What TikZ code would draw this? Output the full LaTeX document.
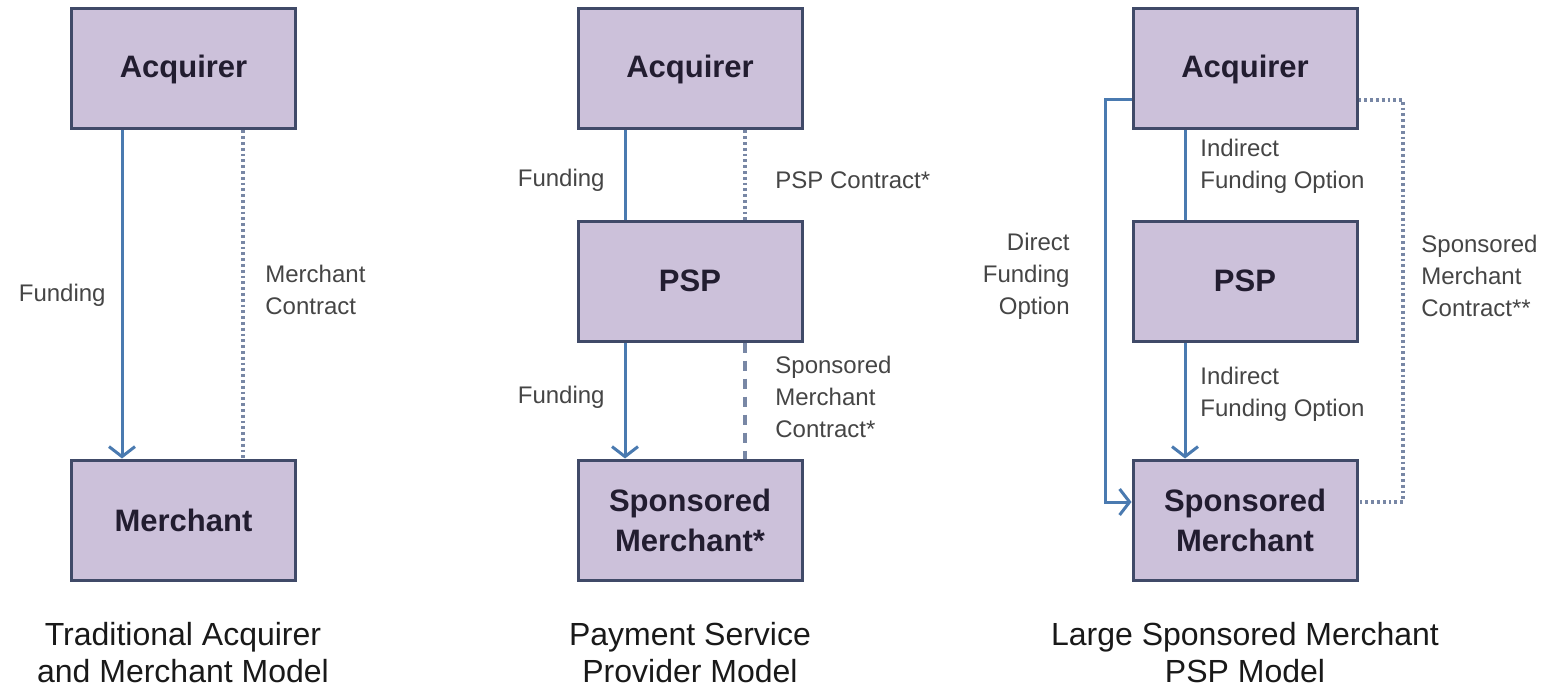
\documentclass[tikz,border=0pt]{standalone}
\usepackage{fontspec}
\setmainfont{Liberation Sans}
\usetikzlibrary{arrows.meta}
\definecolor{boxfill}{HTML}{CCC1DA}
\definecolor{boxline}{HTML}{404A68}
\definecolor{fundcol}{HTML}{4A7AB0}
\definecolor{dotcol}{HTML}{7887A5}
\definecolor{labcol}{HTML}{454545}
\definecolor{boxtext}{HTML}{221D30}
\tikzset{
  entity/.style={draw=boxline, fill=boxfill, line width=1.5pt, minimum width=112pt, minimum height=60pt, inner sep=0pt, align=center, text=boxtext, font=\fontsize{15.5}{20}\selectfont\bfseries},
  fund/.style={draw=fundcol, line width=1.5pt},
  fundarrow/.style={fund, -{Straight Barb[length=5pt,width=13pt,line width=1.5pt]}},
  dotline/.style={draw=dotcol, line width=1.7pt, dash pattern=on 1.4pt off 1.5pt},
  dashline/.style={draw=dotcol, line width=1.8pt, dash pattern=on 5pt off 4pt},
  lab/.style={text=labcol, font=\fontsize{12}{16}\selectfont, inner sep=0pt},
  ttl/.style={text=black!90, font=\fontsize{16}{18.5}\selectfont, align=center, inner sep=0pt}
}
\begin{document}
\begin{tikzpicture}[x=0.5pt, y=-0.5pt]
\useasboundingbox (0,0) rectangle (1554,690);
% ---------- Panel 1
\node[entity] (acq1) at (183.5,69) {Acquirer};
\node[entity] (mer1) at (183.5,520) {Merchant};
\coordinate (f1) at (122,0);
\coordinate (c1) at (243,0);
\draw[fundarrow] (acq1.south -| f1) -- (mer1.north -| f1);
\draw[dotline] (acq1.south -| c1) -- (mer1.north -| c1);
\node[lab, anchor=east] (l1a) at (106,295) {Funding};
\node[lab, anchor=west, align=left] (l1b) at (265,290) {Merchant\\Contract};
\node[ttl] (t1) at (183,653) {Traditional Acquirer\\and Merchant Model};
% ---------- Panel 2
\node[entity] (acq2) at (690,69) {Acquirer};
\node[entity] (psp2) at (690,281) {PSP};
\node[entity] (sm2) at (690,520) {Sponsored\\Merchant*};
\coordinate (f2) at (625,0);
\coordinate (c2) at (745,0);
\draw[fund] (acq2.south -| f2) -- (psp2.north -| f2);
\draw[dotline] (acq2.south -| c2) -- (psp2.north -| c2);
\draw[fundarrow] (psp2.south -| f2) -- (sm2.north -| f2);
\draw[dashline] (psp2.south -| c2) -- (sm2.north -| c2);
\node[lab, anchor=east] (l2a) at (605,180) {Funding};
\node[lab, anchor=west] (l2b) at (775,180) {PSP Contract*};
\node[lab, anchor=east] (l2c) at (605,397) {Funding};
\node[lab, anchor=west, align=left] (l2d) at (775,397) {Sponsored\\Merchant\\Contract*};
\node[ttl] (t2) at (690,653) {Payment Service\\Provider Model};
% ---------- Panel 3
\node[entity] (acq3) at (1245,69) {Acquirer};
\node[entity] (psp3) at (1245,281) {PSP};
\node[entity] (sm3) at (1245,520) {Sponsored\\Merchant};
\coordinate (f3) at (1185,0);
\coordinate (dA) at (1105,100);
\coordinate (dB) at (1105,502);
\coordinate (sA) at (1403,100);
\coordinate (sB) at (1403,502);
\draw[fund] (acq3.south -| f3) -- (psp3.north -| f3);
\draw[fundarrow] (psp3.south -| f3) -- (sm3.north -| f3);
\draw[fundarrow] (acq3.west |- dA) -- (dA) -- (dB) -- (sm3.west |- dB);
\draw[dotline] (acq3.east |- sA) -- (sA) -- (sB) -- (sm3.east |- sB);
\node[lab, anchor=west, align=left] (l3a) at (1200,166) {Indirect\\Funding Option};
\node[lab, anchor=west, align=left] (l3b) at (1200,394) {Indirect\\Funding Option};
\node[lab, anchor=east, align=right] (l3c) at (1070,276) {Direct\\Funding\\Option};
\node[lab, anchor=west, align=left] (l3d) at (1421,276) {Sponsored\\Merchant\\Contract**};
\node[ttl] (t3) at (1245,653) {Large Sponsored Merchant\\PSP Model};
\end{tikzpicture}
\end{document}
